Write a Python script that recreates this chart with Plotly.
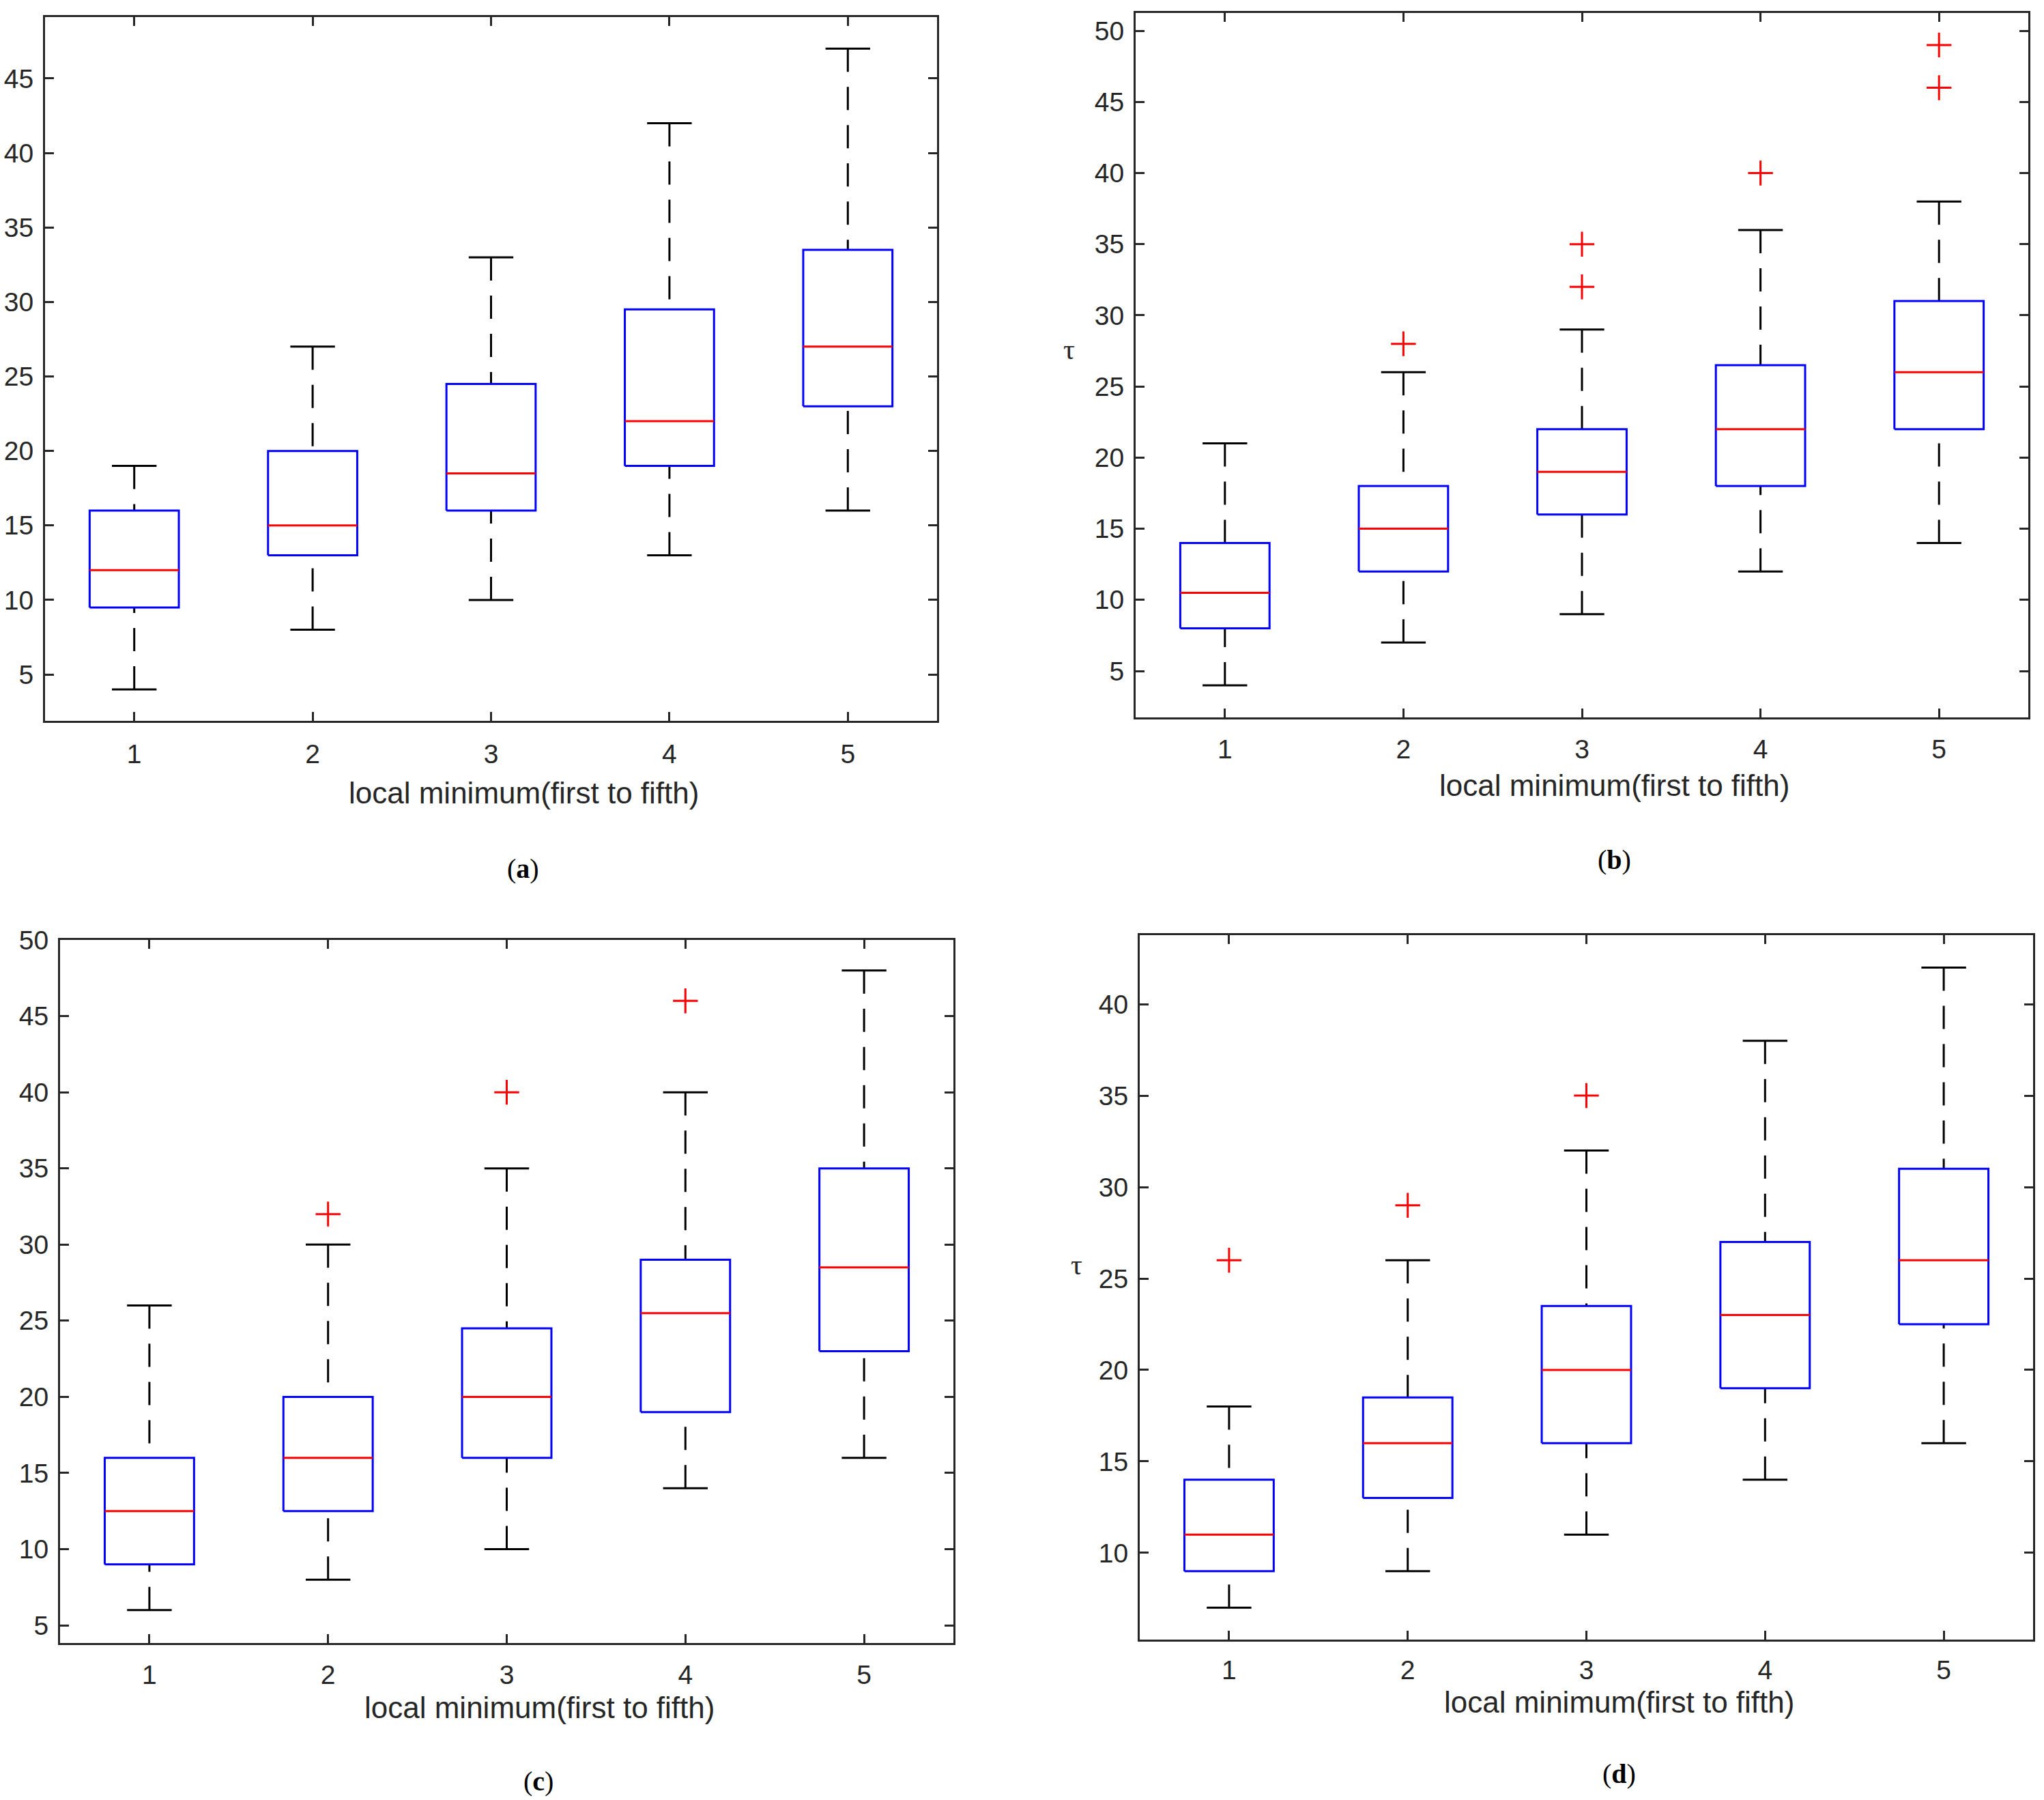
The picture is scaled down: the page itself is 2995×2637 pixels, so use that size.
import plotly.graph_objects as go

W, H = 2995, 2637

positions = [1, 2, 3, 4, 5]
tick_labels = ["1", "2", "3", "4", "5"]
x_title = "local minimum(first to fifth)"

# Panel (a)
a_low = [4, 8, 10, 13, 16]
a_q1 = [9.5, 13, 16, 19, 23]
a_med = [12, 15, 18.5, 22, 27]
a_q3 = [16, 20, 24.5, 29.5, 33.5]
a_high = [19, 27, 33, 42, 47]
a_out = [[], [], [], [], []]
a_yticks = [5, 10, 15, 20, 25, 30, 35, 40, 45]

# Panel (b)
b_low = [4, 7, 9, 12, 14]
b_q1 = [8, 12, 16, 18, 22]
b_med = [10.5, 15, 19, 22, 26]
b_q3 = [14, 18, 22, 26.5, 31]
b_high = [21, 26, 29, 36, 38]
b_out = [[], [28], [32, 35], [40], [46, 49]]
b_yticks = [5, 10, 15, 20, 25, 30, 35, 40, 45, 50]

# Panel (c)
c_low = [6, 8, 10, 14, 16]
c_q1 = [9, 12.5, 16, 19, 23]
c_med = [12.5, 16, 20, 25.5, 28.5]
c_q3 = [16, 20, 24.5, 29, 35]
c_high = [26, 30, 35, 40, 48]
c_out = [[], [32], [40], [46], []]
c_yticks = [5, 10, 15, 20, 25, 30, 35, 40, 45, 50]

# Panel (d)
d_low = [7, 9, 11, 14, 16]
d_q1 = [9, 13, 16, 19, 22.5]
d_med = [11, 16, 20, 23, 26]
d_q3 = [14, 18.5, 23.5, 27, 31]
d_high = [18, 26, 32, 38, 42]
d_out = [[26], [29], [35], [], []]
d_yticks = [10, 15, 20, 25, 30, 35, 40]

AX = "#262626"
BOX_HALF = 0.25
CAP_HALF = 0.125
LW = 3

fig = go.Figure()


def add_panel(xa, ya, low, q1, med, q3, high, outs):
    bx, by, mx, my, wx, wy, cx, cy, ox, oy = [], [], [], [], [], [], [], [], [], []
    for i, p in enumerate(positions):
        bx += [p - BOX_HALF, p + BOX_HALF, p + BOX_HALF, p - BOX_HALF, p - BOX_HALF, None]
        by += [q1[i], q1[i], q3[i], q3[i], q1[i], None]
        mx += [p - BOX_HALF, p + BOX_HALF, None]
        my += [med[i], med[i], None]
        wx += [p, p, None, p, p, None]
        wy += [high[i], q3[i], None, low[i], q1[i], None]
        cx += [p - CAP_HALF, p + CAP_HALF, None, p - CAP_HALF, p + CAP_HALF, None]
        cy += [high[i], high[i], None, low[i], low[i], None]
        for v in outs[i]:
            ox.append(p)
            oy.append(v)
    common = dict(xaxis=xa, yaxis=ya, showlegend=False, hoverinfo="skip")
    fig.add_trace(go.Scatter(x=wx, y=wy, mode="lines",
                             line=dict(color="black", width=LW, dash="34px,22px"), **common))
    fig.add_trace(go.Scatter(x=cx, y=cy, mode="lines",
                             line=dict(color="black", width=LW), **common))
    fig.add_trace(go.Scatter(x=bx, y=by, mode="lines",
                             line=dict(color="#0000FF", width=LW), **common))
    fig.add_trace(go.Scatter(x=mx, y=my, mode="lines",
                             line=dict(color="#FF0000", width=LW), **common))
    if ox:
        fig.add_trace(go.Scatter(x=ox, y=oy, mode="markers",
                                 marker=dict(symbol="cross-thin", size=26,
                                             line=dict(color="#FF0000", width=LW)),
                                 **common))


add_panel("x", "y", a_low, a_q1, a_med, a_q3, a_high, a_out)
add_panel("x2", "y2", b_low, b_q1, b_med, b_q3, b_high, b_out)
add_panel("x3", "y3", c_low, c_q1, c_med, c_q3, c_high, c_out)
add_panel("x4", "y4", d_low, d_q1, d_med, d_q3, d_high, d_out)

# frame boxes in pixels: (left, top, right, bottom)
frames = {
    "1": (66, 25, 1373, 1056),
    "2": (1664, 19, 2972, 1051),
    "3": (88, 1377, 1397, 2407),
    "4": (1670, 1370, 2979, 2402),
}
yranges = {
    "1": [1.89, 49.12],
    "2": [1.74, 51.25],
    "3": [3.84, 50.0],
    "4": [5.26, 43.77],
}
yticks = {"1": a_yticks, "2": b_yticks, "3": c_yticks, "4": d_yticks}
xstandoff = {"1": 12, "2": 10, "3": 10, "4": 8}

tickfont = dict(family="Liberation Sans, Arial, sans-serif", size=39, color=AX)
layout = dict(width=W, height=H,
              margin=dict(l=0, r=0, t=0, b=0, pad=0, autoexpand=False),
              paper_bgcolor="white", plot_bgcolor="white", showlegend=False)

for k, (l, t, r, b) in frames.items():
    xs = "" if k == "1" else k
    xdom = [l / W, r / W]
    ydom = [1 - b / H, 1 - t / H]
    layout["xaxis" + xs] = dict(
        domain=xdom, anchor="y" + xs, range=[0.5, 5.5],
        tickmode="array", tickvals=positions, ticktext=tick_labels,
        ticks="inside", ticklen=13, tickwidth=LW, tickcolor=AX,
        showline=True, linecolor=AX, linewidth=LW, mirror="ticks",
        showgrid=False, zeroline=False, tickfont=tickfont,
        ticklabelstandoff=xstandoff[k],
    )
    layout["yaxis" + xs] = dict(
        domain=ydom, anchor="x" + xs, range=yranges[k],
        tickmode="array", tickvals=yticks[k],
        ticks="inside", ticklen=13, tickwidth=LW, tickcolor=AX,
        showline=True, linecolor=AX, linewidth=LW, mirror="ticks",
        showgrid=False, zeroline=False, tickfont=tickfont,
        ticklabelstandoff=6,
    )

fig.update_layout(**layout)

title_font = dict(family="Liberation Sans, Arial, sans-serif", size=44, color=AX)
label_font = dict(family="Liberation Serif, Times New Roman, serif", size=40, color="black")
tau_font = dict(family="Liberation Serif, Times New Roman, serif", size=42, color=AX)

# axis titles (center px)
xtitles = [(767, 1161), (2365, 1151), (790, 2501), (2372, 2493)]
for (px, py) in xtitles:
    fig.add_annotation(text=x_title, x=px / W, y=1 - py / H, xref="paper", yref="paper",
                       showarrow=False, font=title_font, xanchor="center", yanchor="middle")

sub_labels = ["(<b>a</b>)", "(<b>b</b>)", "(<b>c</b>)", "(<b>d</b>)"]
sub_pos = [(766, 1272), (2365, 1259), (789, 2609), (2372, 2598)]
for txt, (px, py) in zip(sub_labels, sub_pos):
    fig.add_annotation(text=txt, x=px / W, y=1 - py / H, xref="paper", yref="paper",
                       showarrow=False, font=label_font, xanchor="center", yanchor="middle")

for (px, py) in [(1566, 512), (1578, 1853)]:
    fig.add_annotation(text="τ", x=px / W, y=1 - py / H, xref="paper", yref="paper",
                       showarrow=False, font=tau_font, xanchor="center", yanchor="middle")

fig.write_html(
    "out.html",
    config={"displayModeBar": False},
    post_script="document.body.style.margin='0';document.body.style.padding='0';"
                "document.documentElement.style.overflow='hidden';"
                "document.body.style.overflow='hidden';",
)
